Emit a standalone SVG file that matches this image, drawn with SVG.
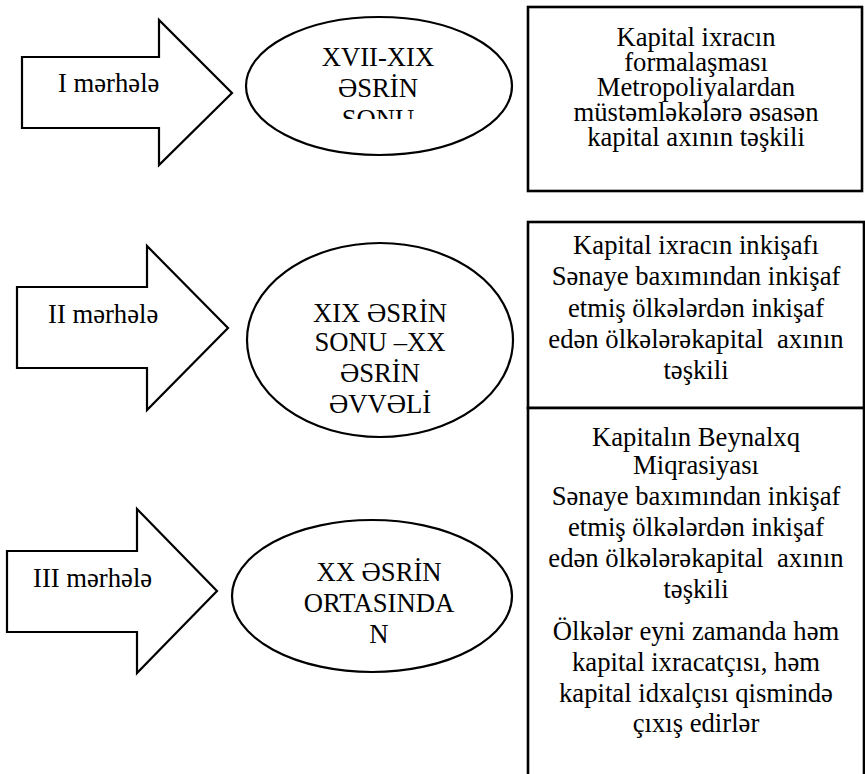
<svg xmlns="http://www.w3.org/2000/svg" width="865" height="774" viewBox="0 0 865 774">
<style>
.shape{fill:#fff;stroke:#000;stroke-width:2.2;stroke-linejoin:miter}
.box{fill:#fff;stroke:#000;stroke-width:2.6}
.t{font-family:"Liberation Serif","Times New Roman","DejaVu Serif",serif;font-size:26.67px;fill:#000;white-space:pre}
.c{text-anchor:middle}
</style>
<defs>
<clipPath id="clip1"><rect x="240" y="20" width="280" height="99"/></clipPath>
</defs>
<rect width="865" height="774" fill="#fff"/>
<g id="connectors"/>
<g id="arrow1">
<polygon class="shape" points="22,57 159,57 159,20 232,93 159,165 159,128 22,128"/>
<text class="t" x="58" y="92">I mərhələ</text>
</g>
<g id="arrow2">
<polygon class="shape" points="17,287 147,287 147,246 228,328 147,410 147,368 17,368"/>
<text class="t" x="48" y="323">II mərhələ</text>
</g>
<g id="arrow3">
<polygon class="shape" points="7,551 137,551 137,509 217,591 137,673 137,632 7,632"/>
<text class="t" x="33" y="587">III mərhələ</text>
</g>
<g id="ellipse1">
<ellipse class="shape" cx="379" cy="86" rx="133" ry="69"/>
<g clip-path="url(#clip1)">
<text class="t c" x="378" y="66">XVII-XIX</text>
<text class="t c" x="378" y="97">ƏSRİN</text>
<text class="t c" x="378" y="128">SONU</text>
</g>
</g>
<g id="ellipse2">
<ellipse class="shape" cx="380" cy="340" rx="133" ry="97"/>
<text class="t c" x="380" y="322">XIX ƏSRİN</text>
<text class="t c" x="380" y="351">SONU –XX</text>
<text class="t c" x="380" y="382">ƏSRİN</text>
<text class="t c" x="380" y="413">ƏVVƏLİ</text>
</g>
<g id="ellipse3">
<ellipse class="shape" cx="372" cy="596" rx="140" ry="76"/>
<text class="t c" x="379" y="581">XX ƏSRİN</text>
<text class="t c" x="379" y="612">ORTASINDA</text>
<text class="t c" x="379" y="643">N</text>
</g>
<g id="box1">
<rect class="box" x="528" y="7" width="334" height="184"/>
<text class="t c" x="696" y="46">Kapital ixracın</text>
<text class="t c" x="696" y="71">formalaşması</text>
<text class="t c" x="696" y="96">Metropoliyalardan</text>
<text class="t c" x="696" y="121">müstəmləkələrə əsasən</text>
<text class="t c" x="696" y="146">kapital axının təşkili</text>
</g>
<g id="box2">
<rect class="box" x="528" y="222" width="336" height="186"/>
<text class="t c" x="696" y="254">Kapital ixracın inkişafı</text>
<text class="t c" x="696" y="285">Sənaye baxımından inkişaf</text>
<text class="t c" x="696" y="317">etmiş ölkələrdən inkişaf</text>
<text class="t c" x="696" y="348">edən ölkələrəkapital  axının</text>
<text class="t c" x="696" y="379">təşkili</text>
</g>
<g id="box3">
<rect class="box" x="528" y="408" width="336" height="380"/>
<text class="t c" x="696" y="446">Kapitalın Beynalxq</text>
<text class="t c" x="696" y="474">Miqrasiyası</text>
<text class="t c" x="696" y="505">Sənaye baxımından inkişaf</text>
<text class="t c" x="696" y="536">etmiş ölkələrdən inkişaf</text>
<text class="t c" x="696" y="567">edən ölkələrəkapital  axının</text>
<text class="t c" x="696" y="598">təşkili</text>
<text class="t c" x="696" y="640">Ölkələr eyni zamanda həm</text>
<text class="t c" x="696" y="671">kapital ixracatçısı, həm</text>
<text class="t c" x="696" y="702">kapital idxalçısı qismində</text>
<text class="t c" x="696" y="732">çıxış edirlər</text>
</g>
</svg>
